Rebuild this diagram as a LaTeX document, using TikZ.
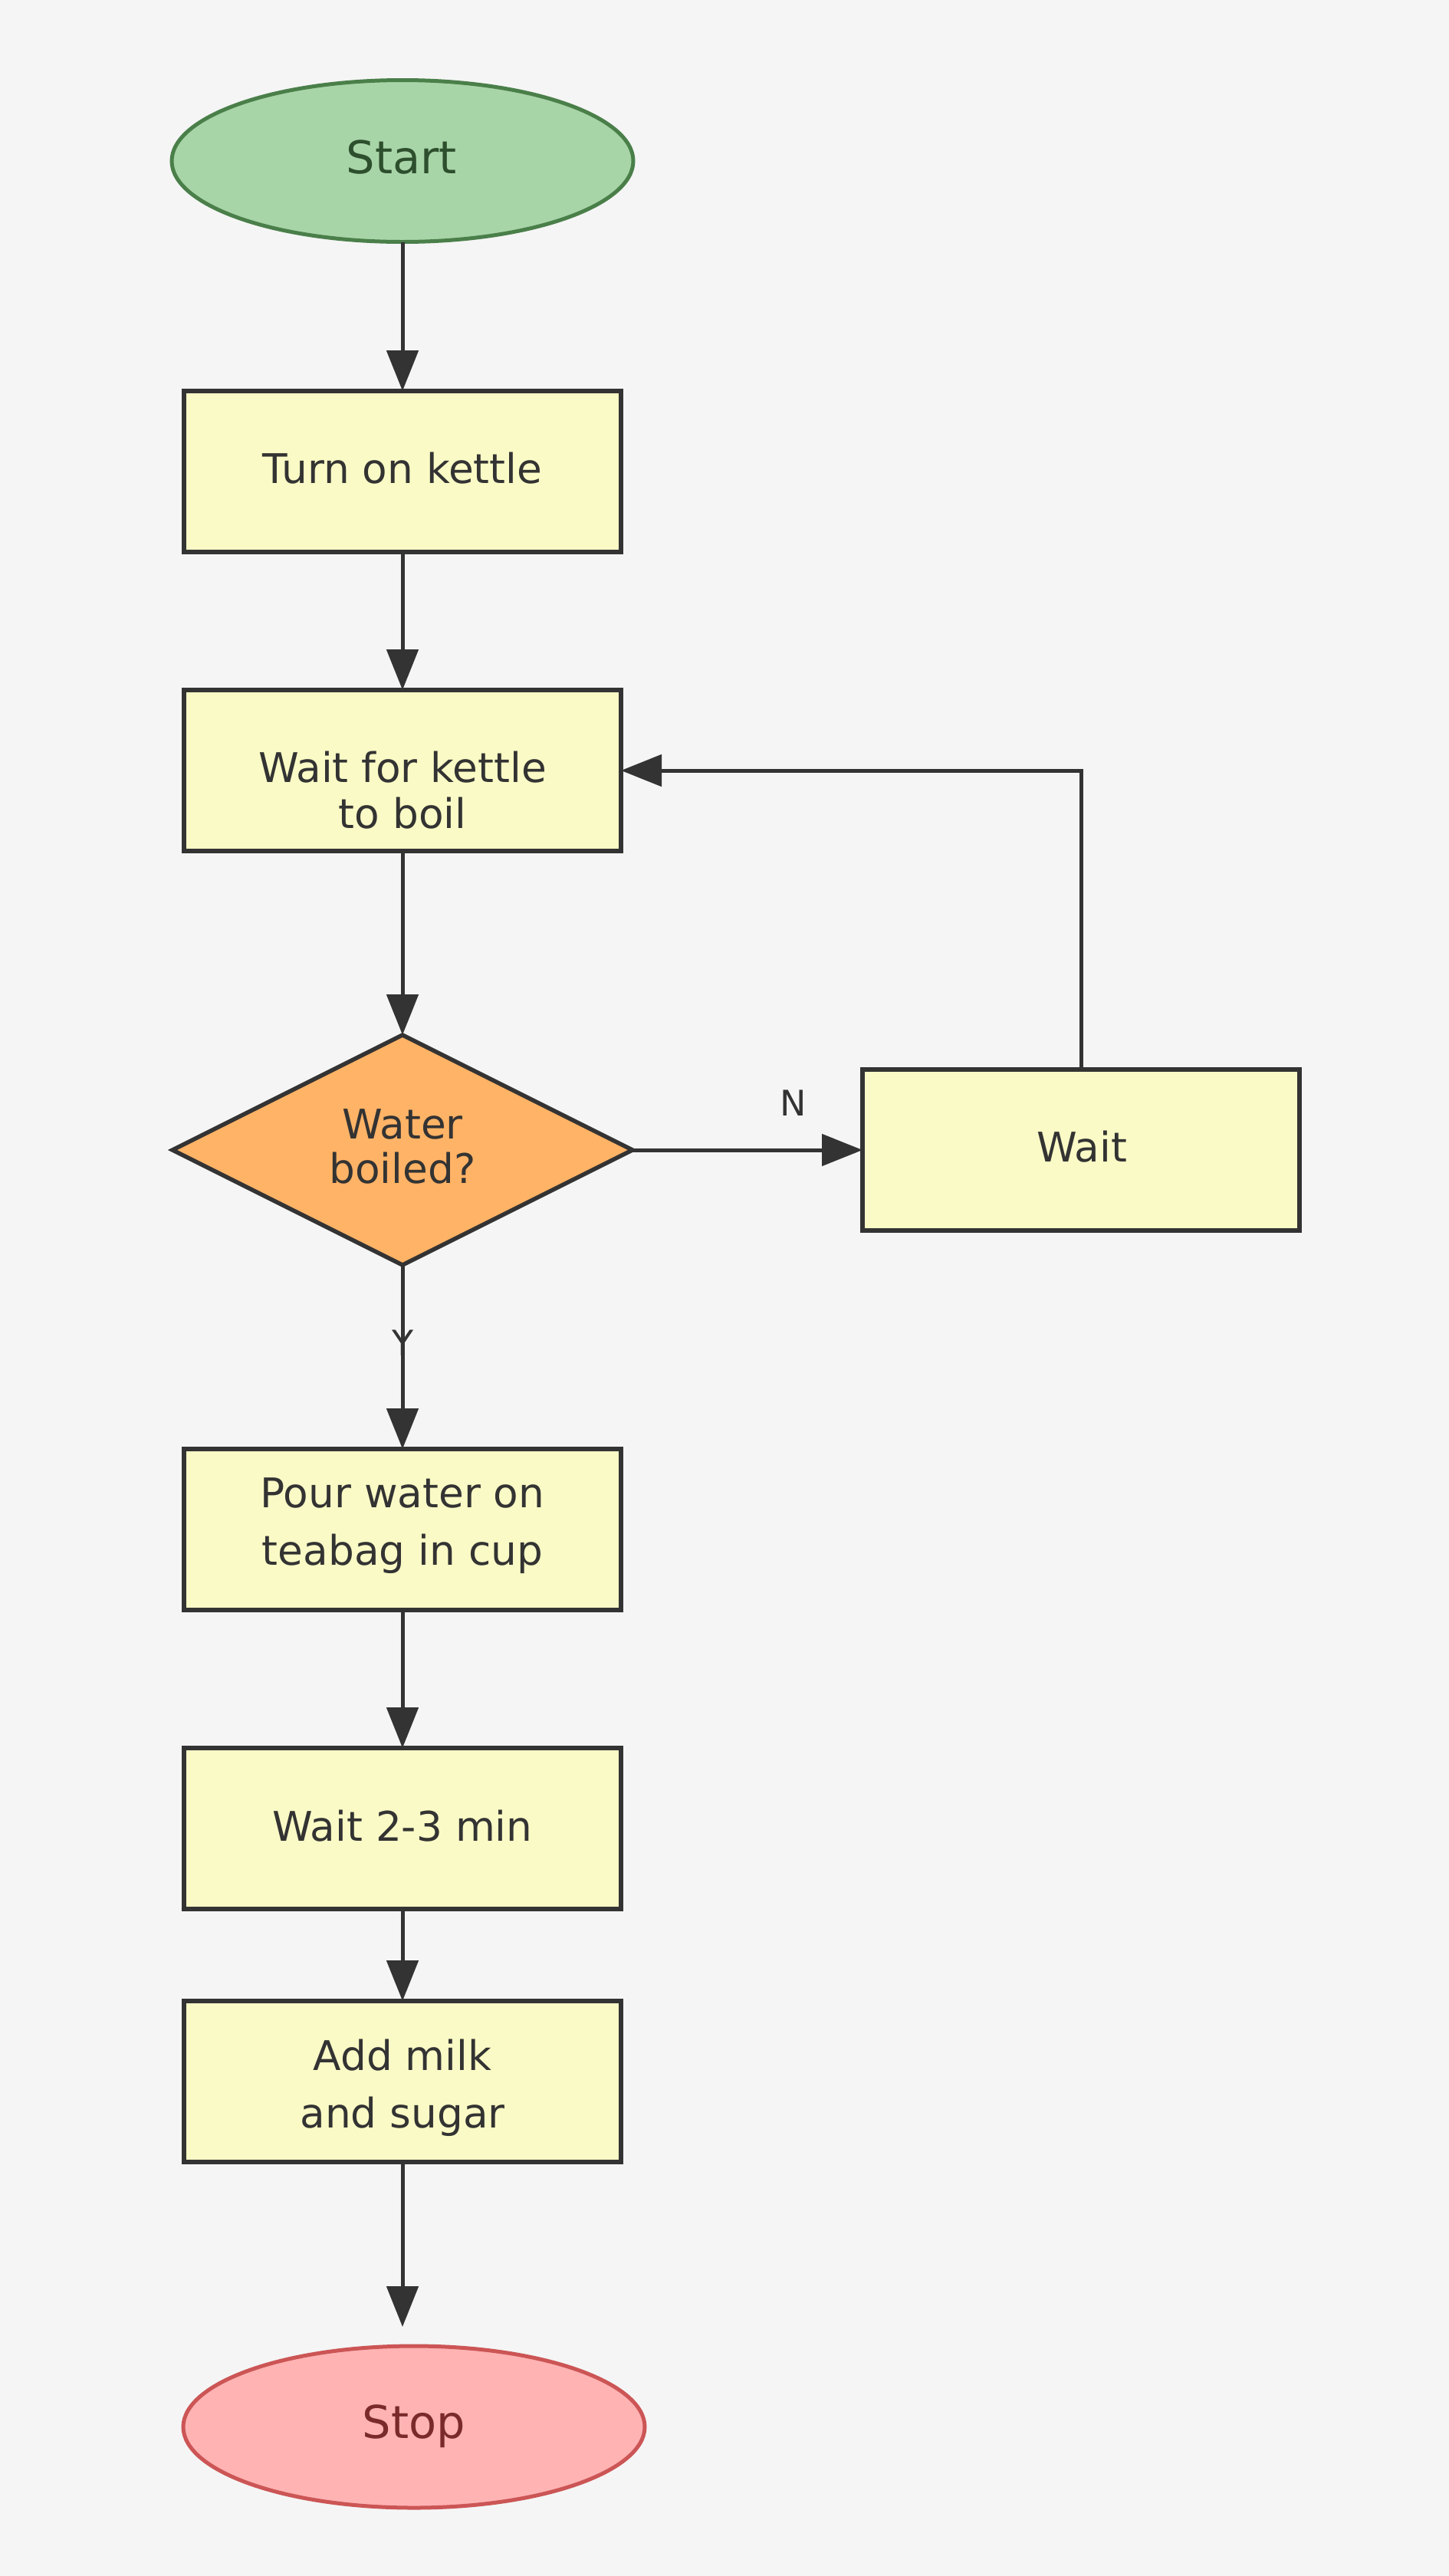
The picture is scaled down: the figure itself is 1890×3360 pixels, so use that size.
\documentclass[tikz,border=0pt]{standalone}
\usepackage{fontspec}
\setmainfont{DejaVu Sans}
\usetikzlibrary{shapes.geometric,arrows.meta}
\definecolor{bgc}{HTML}{F5F5F5}
\definecolor{inkc}{HTML}{333333}
\definecolor{boxfill}{HTML}{FAFAC6}
\definecolor{decfill}{HTML}{FFB366}
\definecolor{startfill}{HTML}{A8D5A8}
\definecolor{startdraw}{HTML}{4A7F4A}
\definecolor{starttext}{HTML}{2D4F2D}
\definecolor{stopfill}{HTML}{FFB3B3}
\definecolor{stopdraw}{HTML}{CC5555}
\definecolor{stoptext}{HTML}{7A2A2A}
\tikzset{
  procbox/.style={draw=inkc, fill=boxfill, line width=5.5pt, rectangle,
    minimum width=570pt, minimum height=210pt, inner sep=0pt, outer sep=0pt},
  decbox/.style={draw=inkc, fill=decfill, line width=5.5pt, diamond, aspect=2,
    minimum width=600pt, minimum height=300pt, inner sep=0pt, outer sep=0pt},
  startbox/.style={draw=startdraw, fill=startfill, line width=5pt, ellipse,
    minimum width=602pt, minimum height=211pt, inner sep=0pt, outer sep=0pt},
  stopbox/.style={draw=stopdraw, fill=stopfill, line width=5pt, ellipse,
    minimum width=602pt, minimum height=211pt, inner sep=0pt, outer sep=0pt},
  txt/.style={text=inkc, anchor=base, inner sep=0pt, align=center,
    font=\fontsize{53.3}{60}\selectfont},
  txtloose/.style={txt, font=\fontsize{53.3}{75}\selectfont},
  termtxt/.style={txt, font=\fontsize{59}{66}\selectfont},
  edgelbl/.style={text=inkc, anchor=base, inner sep=0pt,
    font=\fontsize{46}{52}\selectfont},
  conn/.style={draw=inkc, line width=5pt,
    -{Triangle[length=53pt,width=41pt]}},
}
\begin{document}
\begin{tikzpicture}[x=1pt,y=-1pt]
\useasboundingbox[fill=bgc] (0,0) rectangle (1890,3360);

% shapes
\node[startbox] (start) at (525,210) {};
\node[procbox] (kettle) at (525,615) {};
\node[procbox] (boil) at (525,1005) {};
\node[decbox] (dec) at (525,1500) {};
\node[procbox] (wait) at (1410,1500) {};
\node[procbox] (pour) at (525,1995) {};
\node[procbox] (steep) at (525,2385) {};
\node[procbox] (milk) at (525,2715) {};
\node[stopbox] (stop) at (540,3165.5) {};

% texts (multi-line nodes anchored at the baseline of their last line)
\node[termtxt, text=starttext] (tstart) at (524,226) {Start};
\node[txt] (tkettle) at (525,630.5) {Turn on kettle};
\node[txt] (tboil) at (525,1080) {Wait for kettle\\to boil};
\node[txt, font=\fontsize{53.3}{58}\selectfont] (tdec) at (525,1543.8) {Water\\boiled?};
\node[txt] (twait) at (1411,1515.6) {Wait};
\node[txtloose] (tpour) at (525,2041) {Pour water on\\teabag in cup};
\node[txt] (tsteep) at (525,2401) {Wait 2-3 min};
\node[txtloose] (tmilk) at (525,2775) {Add milk\\and sugar};
\node[termtxt, text=stoptext] (tstop) at (540,3180) {Stop};

% connectors
\draw[conn] (start.south) -- (kettle.north);
\draw[conn] (kettle.south) -- (boil.north);
\draw[conn] (boil.south) -- (dec.north);
\draw[conn] (dec.east) -- (wait.west);
\draw[conn] (dec.south) -- (pour.north);
\draw[conn] (pour.south) -- (steep.north);
\draw[conn] (steep.south) -- (milk.north);
\draw[conn, shorten >=25pt] (milk.south) -- (milk.south |- stop.north);
\draw[conn] (wait.north) |- (boil.east);

% edge labels
\node[edgelbl] (lN) at (1035,1455) {N};
\node[edgelbl] (lY) at (526,1768) {Y};
\end{tikzpicture}
\end{document}
